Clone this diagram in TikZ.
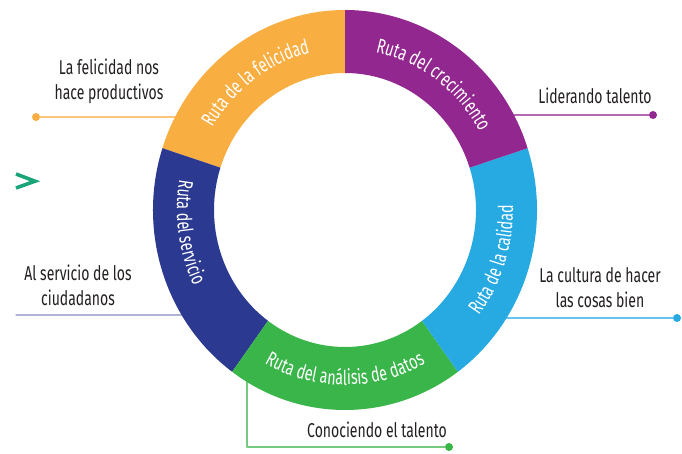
\documentclass[tikz,border=0pt]{standalone}
\usepackage{fontspec}
\newfontfamily\rutafont[FakeStretch=0.7]{Fira Sans}
\usepackage{xcolor}
\usetikzlibrary{calc,decorations.text}
\definecolor{naranja}{HTML}{F9AE42}
\definecolor{morado}{HTML}{92278F}
\definecolor{celeste}{HTML}{27AAE1}
\definecolor{verde}{HTML}{39B54A}
\definecolor{azul}{HTML}{2B3990}
\definecolor{lavanda}{HTML}{8E92C8}
\definecolor{flecha}{HTML}{1BA37A}
\definecolor{texto}{HTML}{231F20}

\begin{document}
\begin{tikzpicture}[x=1pt,y=1pt,line join=round,line cap=round,
font=\fontsize{20}{25}\selectfont\rutafont,
etiqueta/.style={text=texto,align=center,inner sep=0pt},
punto/.style={circle,fill=#1,inner sep=0pt,minimum size=8pt},
linea/.style={#1!70,line width=1.3pt},
ruta/.style={decorate,decoration={text along path,text align=center,
 text={|\color{white}\fontsize{20.5}{25}\selectfont\rutafont|#1}}}]
\useasboundingbox (0,0) rectangle (682,453);
\path
(345,243) coordinate (O)
(200,336) coordinate (felicidad-anillo)
(16,138) coordinate (servicio-fin)
(200,138) coordinate (servicio-anillo)
(490,338) coordinate (crecimiento-anillo)
(490,135) coordinate (calidad-anillo)
(247,90) coordinate (datos-anillo)
;
% puntos de las rutas
\foreach \n/\col/\p in {felicidad/naranja/{(36,336)},crecimiento/morado/{(653,338)},
calidad/celeste/{(677,135)},datos/verde/{(449,6)}}
{\node[punto=\col] (\n-punto) at \p {};}
% lineas
\draw[linea=naranja] (felicidad-punto)--(felicidad-anillo);
\draw[linea=lavanda] (servicio-fin)--(servicio-anillo);
\draw[linea=morado] (crecimiento-punto)--(crecimiento-anillo);
\draw[linea=celeste] (calidad-punto)--(calidad-anillo);
\draw[linea=verde] (datos-anillo)|-(datos-punto);
% anillo
\foreach \a/\col in {90/naranja,162/azul,234/verde,306/celeste,18/morado}
{\fill[\col] ($(O)+(\a:192 and 200)$) arc[start angle=\a,delta angle=72,x radius=192,y radius=200]
 -- ($(O)+(\a+72:131 and 137)$) arc[start angle=\a+72,delta angle=-72,x radius=131,y radius=137] -- cycle;}
\path[ruta={Ruta de la felicidad}] ($(O)+(162:154 and 161)$) arc[start angle=162,end angle=90,x radius=154,y radius=161];
\path[ruta={Ruta del crecimiento}] ($(O)+(90:154 and 161)$) arc[start angle=90,end angle=18,x radius=154,y radius=161];
\path[ruta={Ruta del servicio}] ($(O)+(152:168 and 175)$) arc[start angle=152,end angle=224,x radius=168,y radius=175];
\path[ruta={Ruta del análisis de datos}] ($(O)+(234:168 and 175)$) arc[start angle=234,end angle=306,x radius=168,y radius=175];
\path[ruta={Ruta de la calidad}] ($(O)+(306:168 and 175)$) arc[start angle=306,end angle=378,x radius=168,y radius=175];
% textos
\node[etiqueta] (felicidad) at (109,372) {La felicidad nos\\hace productivos};
\node[etiqueta] (servicio) at (78,168) {Al servicio de los\\ciudadanos};
\node[etiqueta] (crecimiento) at (595,357) {Liderando talento};
\node[etiqueta] (calidad) at (600,165) {La cultura de hacer\\las cosas bien};
\node[etiqueta] (datos) at (377,23) {Conociendo el talento};
\draw[flecha,line width=3.6pt,line cap=butt,line join=miter] (16,279)--(35,271.8)--(16,265);
\end{tikzpicture}
\end{document}
